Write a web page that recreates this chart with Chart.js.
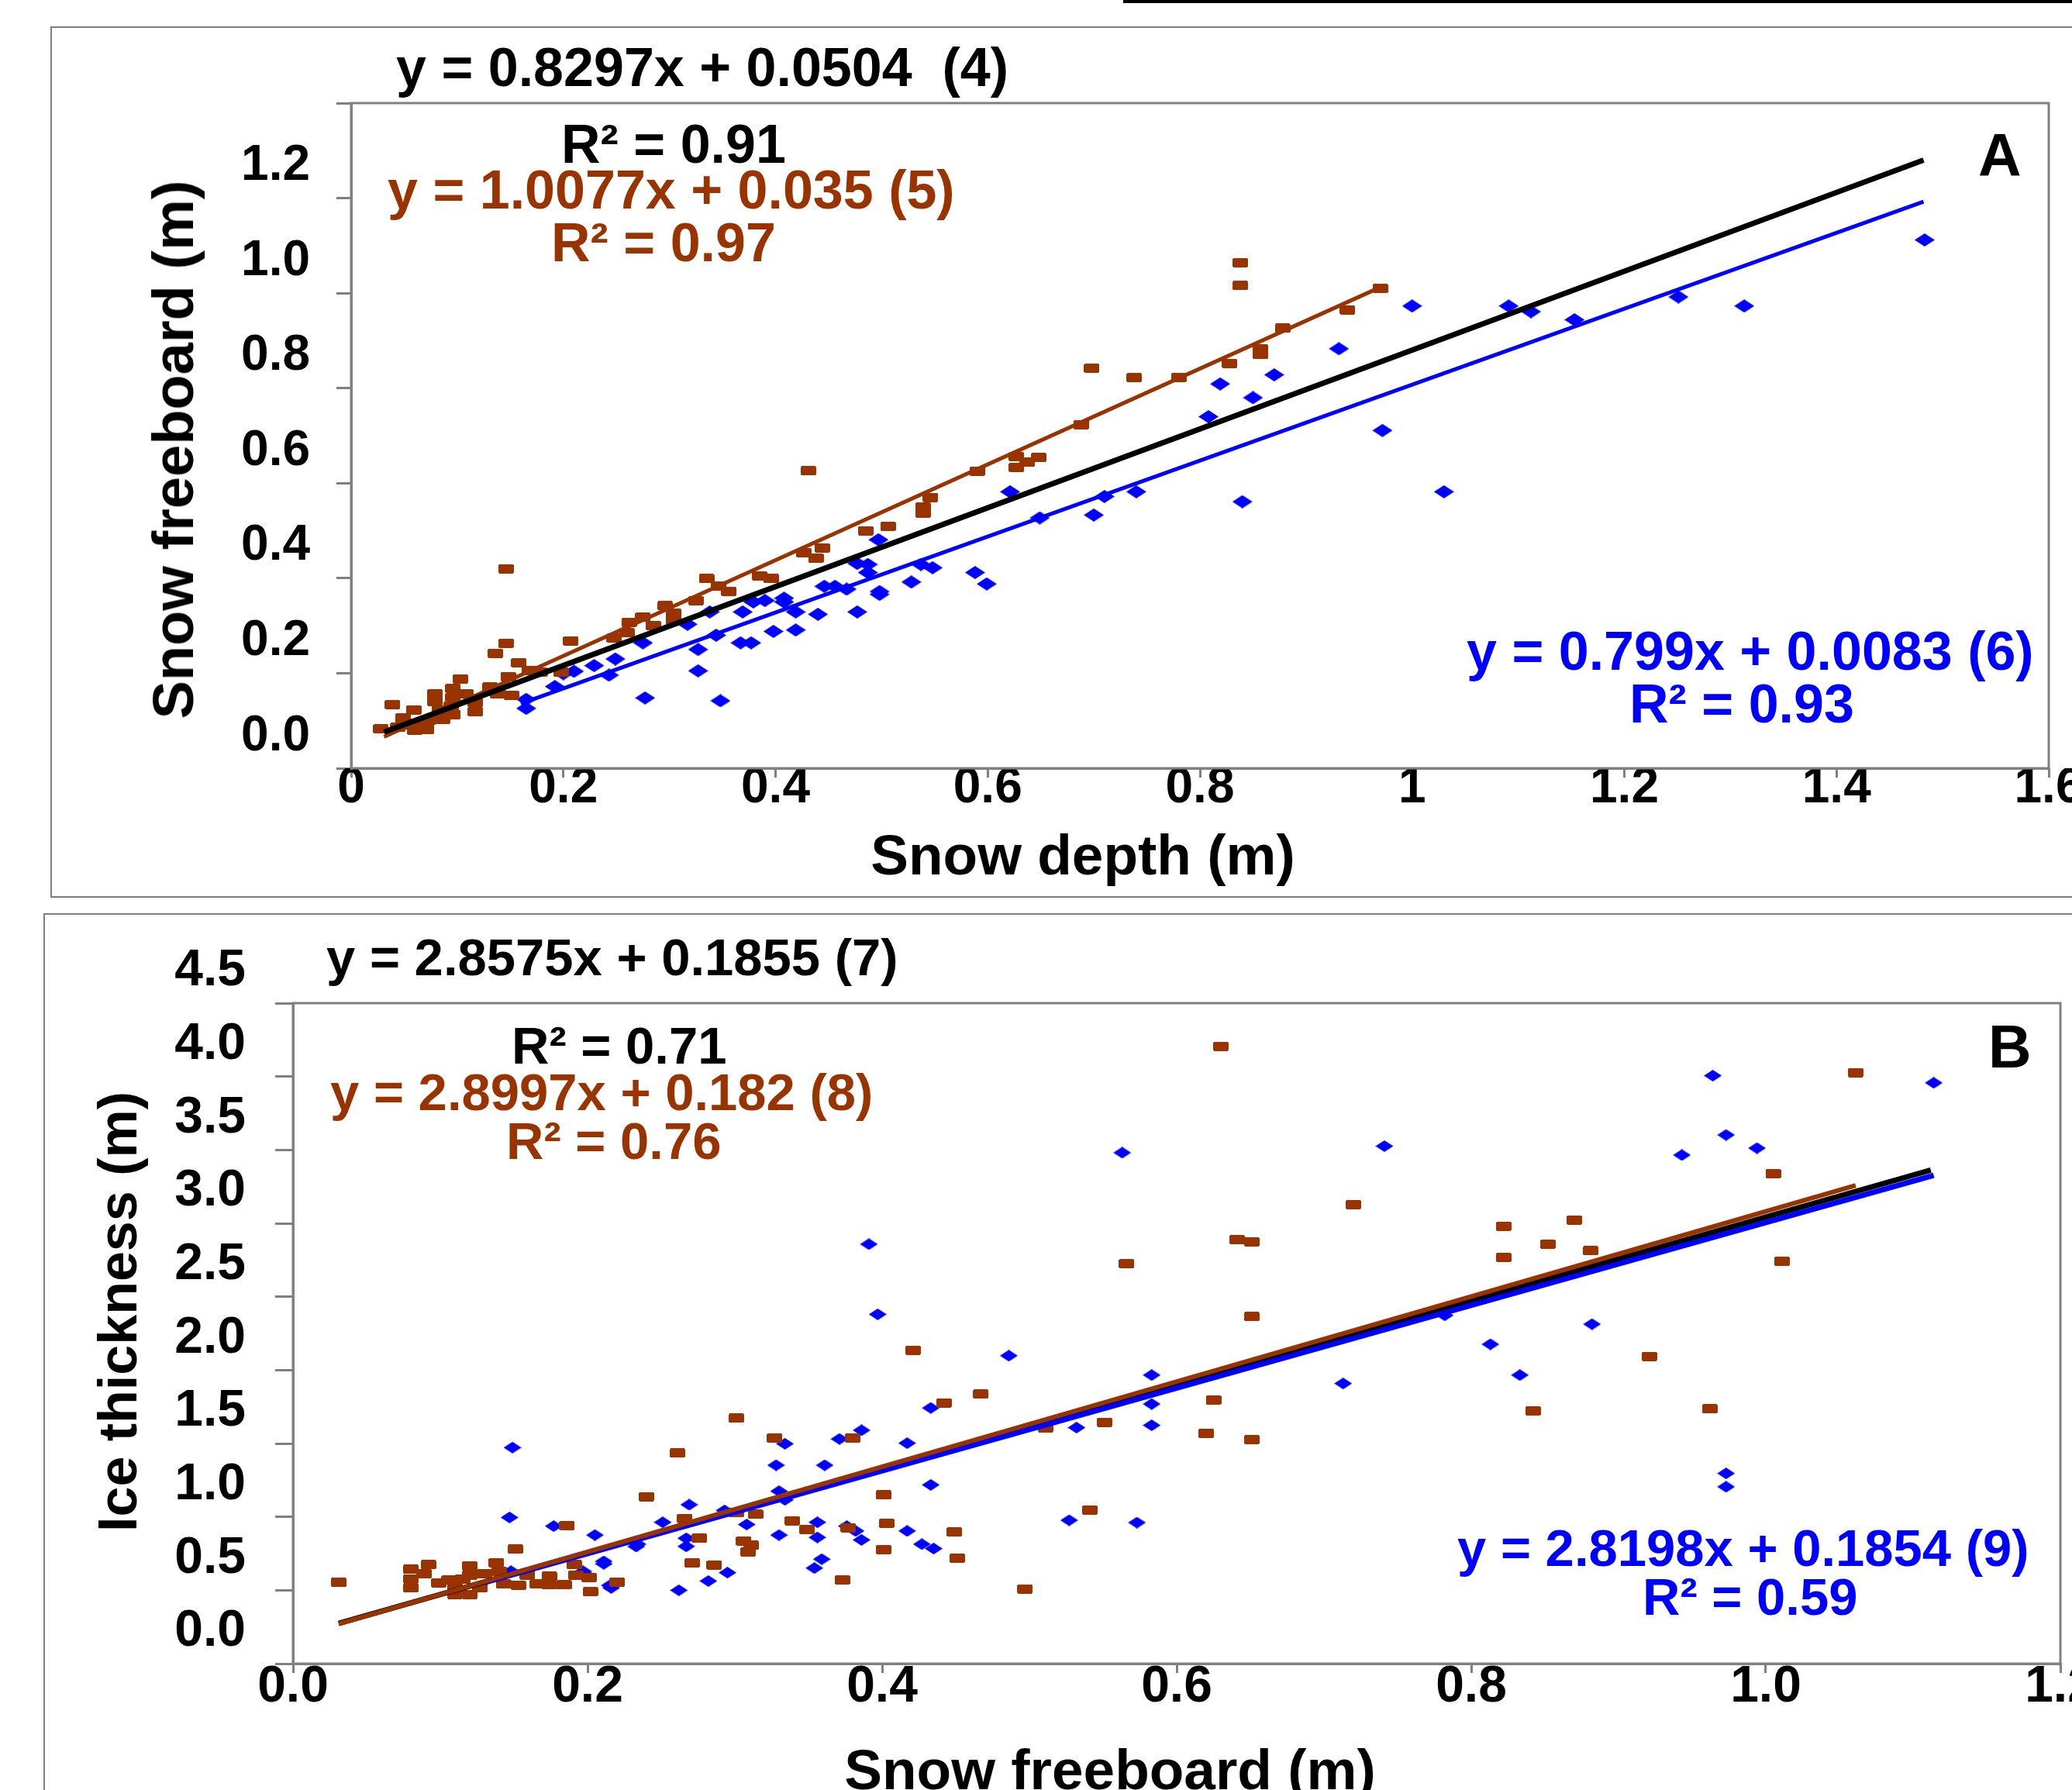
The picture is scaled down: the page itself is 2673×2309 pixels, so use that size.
<!DOCTYPE html>
<html>
<head>
<meta charset="utf-8">
<script src="https://cdn.jsdelivr.net/npm/chart.js@4.4.1/dist/chart.umd.min.js"></script>
<style>
  html, body { margin: 0; padding: 0; background: #fff; }
  body { width: 2673px; height: 2309px; overflow: hidden; position: relative;
         font-family: "Liberation Sans", Arial, sans-serif; font-weight: bold; }
  canvas { position: absolute; left: 0; }
  .frame { position: absolute; border: 2px solid #7f7f7f; }
  .txt { position: absolute; white-space: pre; line-height: 1; }
  .brown { color: #993300; }
  .blue { color: #0000ff; }
</style>
</head>
<body>
<div style="position:absolute;left:1449px;top:0;width:1300px;height:4px;background:#000"></div>
<div class="frame" style="left:65px;top:34px;width:2700px;height:1120px"></div>
<div class="frame" style="left:56px;top:1178px;width:2700px;height:1200px"></div>

<canvas id="chartA" width="2720" height="1160" style="top:0"></canvas>
<canvas id="chartB" width="2720" height="1149" style="top:1160px"></canvas>

<!-- panel A text -->
<div class="txt" style="left:511px;top:52px;font-size:70px">y = 0.8297x + 0.0504  (4)</div>
<div class="txt" style="left:724px;top:151px;font-size:70px">R² = 0.91</div>
<div class="txt brown" style="left:500px;top:210px;font-size:70px">y = 1.0077x + 0.035 (5)</div>
<div class="txt brown" style="left:711px;top:278px;font-size:70px">R² = 0.97</div>
<div class="txt" style="left:2552px;top:162px;font-size:77px">A</div>
<div class="txt blue" style="left:1892px;top:805px;font-size:70px">y = 0.799x + 0.0083 (6)</div>
<div class="txt blue" style="left:2102px;top:873px;font-size:70px">R² = 0.93</div>
<div class="txt" style="left:1397px;top:1066px;font-size:73px;transform:translateX(-50%)">Snow depth (m)</div>
<div class="txt" style="left:224px;top:580px;font-size:74px;transform:translate(-50%,-50%) rotate(-90deg)">Snow freeboard (m)</div>

<!-- panel B text -->
<div class="txt" style="left:421px;top:1201px;font-size:67px">y = 2.8575x + 0.1855 (7)</div>
<div class="txt" style="left:660px;top:1315px;font-size:67px">R² = 0.71</div>
<div class="txt brown" style="left:426px;top:1375px;font-size:67px">y = 2.8997x + 0.182 (8)</div>
<div class="txt brown" style="left:653px;top:1438px;font-size:67px">R² = 0.76</div>
<div class="txt" style="left:2565px;top:1312px;font-size:77px">B</div>
<div class="txt blue" style="left:1880px;top:1963px;font-size:67px">y = 2.8198x + 0.1854 (9)</div>
<div class="txt blue" style="left:2119px;top:2026px;font-size:67px">R² = 0.59</div>
<div class="txt" style="left:1432px;top:2246px;font-size:73px;transform:translateX(-50%)">Snow freeboard (m)</div>
<div class="txt" style="left:152px;top:1692px;font-size:70px;transform:translate(-50%,-50%) rotate(-90deg)">Ice thickness (m)</div>

<script>
// ---- Panel A: snow depth (x) vs snow freeboard (y) ----
const depthA_brown = [0.028, 0.039, 0.044, 0.049, 0.049, 0.059, 0.059, 0.060, 0.065, 0.071, 0.072, 0.079, 0.079, 0.083, 0.086,
  0.094, 0.096, 0.096, 0.096, 0.103, 0.108, 0.117, 0.117, 0.131, 0.136, 0.138, 0.146, 0.146, 0.148, 0.151,
  0.158, 0.168, 0.178, 0.198, 0.207, 0.248, 0.260, 0.262, 0.275, 0.285, 0.296, 0.304, 0.304, 0.325, 0.335,
  0.346, 0.356, 0.385, 0.396, 0.427, 0.431, 0.438, 0.444, 0.485, 0.506, 0.539, 0.539, 0.546, 0.590, 0.627,
  0.627, 0.637, 0.648, 0.688, 0.698, 0.738, 0.780, 0.828, 0.838, 0.838, 0.857, 0.857, 0.878, 0.939, 0.970];
const freeboardA_brown = [0.083, 0.134, 0.086, 0.106, 0.092, 0.123, 0.094, 0.080, 0.090, 0.081, 0.100, 0.157, 0.141, 0.122, 0.103,
  0.130, 0.168, 0.149, 0.113, 0.188, 0.157, 0.138, 0.119, 0.171, 0.242, 0.157, 0.263, 0.420, 0.193, 0.154,
  0.222, 0.206, 0.203, 0.202, 0.268, 0.274, 0.285, 0.307, 0.318, 0.300, 0.342, 0.326, 0.312, 0.353, 0.399,
  0.383, 0.372, 0.405, 0.399, 0.453, 0.626, 0.442, 0.464, 0.500, 0.509, 0.550, 0.537, 0.570, 0.625, 0.633,
  0.656, 0.644, 0.654, 0.723, 0.842, 0.822, 0.822, 0.852, 1.064, 1.016, 0.883, 0.871, 0.926, 0.965, 1.010];

const depthA_blue = [0.165, 0.165, 0.192, 0.200, 0.210, 0.229, 0.243, 0.249, 0.275, 0.277, 0.317, 0.327, 0.327, 0.338, 0.344,
  0.348, 0.367, 0.377, 0.369, 0.379, 0.390, 0.398, 0.408, 0.408, 0.419, 0.419, 0.440, 0.446, 0.456, 0.467,
  0.477, 0.477, 0.487, 0.487, 0.497, 0.498, 0.498, 0.528, 0.537, 0.548, 0.588, 0.599, 0.621, 0.649, 0.700,
  0.710, 0.740, 0.808, 0.819, 0.840, 0.850, 0.870, 0.931, 0.972, 1.000, 1.030, 1.091, 1.112, 1.153, 1.251,
  1.313, 1.483];
const freeboardA_blue = [0.126, 0.145, 0.172, 0.199, 0.204, 0.216, 0.196, 0.230, 0.264, 0.148, 0.303, 0.250, 0.205, 0.329, 0.280,
  0.142, 0.264, 0.264, 0.329, 0.350, 0.353, 0.288, 0.358, 0.350, 0.329, 0.291, 0.324, 0.383, 0.383, 0.377,
  0.329, 0.431, 0.429, 0.412, 0.481, 0.372, 0.366, 0.392, 0.429, 0.422, 0.412, 0.388, 0.582, 0.527, 0.533,
  0.572, 0.582, 0.740, 0.809, 0.561, 0.780, 0.828, 0.883, 0.711, 0.973, 0.582, 0.973, 0.961, 0.944, 0.992,
  0.973, 1.112];

// fits (4) all, (5) brown, (6) blue
const slopesA = [0.8297, 1.0077, 0.799];
const interceptsA = [0.0504, 0.035, 0.0083];
const fitFromA = [0.031, 0.031, 0.16];
const fitToA = [1.482, 0.971, 1.482];

const xTicksA = ['0', '0.2', '0.4', '0.6', '0.8', '1', '1.2', '1.4', '1.6'];
const yTicksA = ['0.0', '0.2', '0.4', '0.6', '0.8', '1.0', '1.2', ''];

// ---- Panel B: snow freeboard (x) vs ice thickness (y) ----
const freeboardB_brown = [0.031, 0.080, 0.080, 0.080, 0.089, 0.092, 0.099, 0.106, 0.110, 0.110, 0.115, 0.120, 0.120, 0.120, 0.127,
  0.130, 0.138, 0.140, 0.143, 0.151, 0.153, 0.159, 0.166, 0.174, 0.174, 0.184, 0.191, 0.192, 0.201, 0.202,
  0.220, 0.186, 0.240, 0.261, 0.266, 0.271, 0.276, 0.286, 0.301, 0.301, 0.306, 0.311, 0.309, 0.314, 0.327,
  0.339, 0.349, 0.373, 0.377, 0.380, 0.401, 0.403, 0.401, 0.421, 0.442, 0.467, 0.449, 0.451, 0.497, 0.511,
  0.541, 0.551, 0.566, 0.620, 0.625, 0.630, 0.641, 0.651, 0.651, 0.651, 0.720, 0.822, 0.822, 0.842, 0.852,
  0.870, 0.881, 0.921, 0.962, 1.005, 1.011, 1.061];
const thicknessB_brown = [0.555, 0.643, 0.577, 0.516, 0.613, 0.674, 0.551, 0.569, 0.516, 0.472, 0.577, 0.666, 0.604, 0.472, 0.516,
  0.613, 0.688, 0.630, 0.542, 0.780, 0.533, 0.604, 0.542, 0.595, 0.537, 0.537, 0.674, 0.604, 0.586, 0.490,
  0.555, 0.941, 1.138, 1.434, 0.989, 0.686, 0.854, 0.672, 1.672, 1.028, 0.836, 0.806, 0.762, 1.017, 1.537,
  0.974, 0.913, 0.570, 0.926, 1.537, 1.149, 0.956, 0.777, 2.135, 1.777, 1.836, 0.897, 0.718, 0.509, 1.608,
  1.047, 1.645, 2.725, 1.569, 1.796, 4.206, 2.889, 2.873, 2.364, 1.526, 3.128, 2.980, 2.767, 1.722, 2.858,
  3.022, 2.813, 2.094, 1.736, 3.338, 2.741, 4.027];

const freeboardB_blue = [0.149, 0.147, 0.148, 0.177, 0.197, 0.198, 0.205, 0.211, 0.211, 0.215, 0.216, 0.233, 0.234, 0.251, 0.262,
  0.267, 0.267, 0.269, 0.282, 0.293, 0.295, 0.308, 0.328, 0.330, 0.330, 0.334, 0.334, 0.354, 0.356, 0.356,
  0.359, 0.361, 0.371, 0.376, 0.382, 0.386, 0.386, 0.391, 0.397, 0.417, 0.417, 0.427, 0.435, 0.433, 0.433,
  0.486, 0.527, 0.532, 0.563, 0.573, 0.583, 0.583, 0.583, 0.713, 0.741, 0.782, 0.813, 0.833, 0.882, 0.943,
  0.964, 0.973, 0.973, 0.973, 0.994, 1.114];
const thicknessB_blue = [1.472, 0.996, 0.630, 0.937, 0.629, 0.613, 0.876, 0.697, 0.680, 0.533, 0.516, 0.798, 0.814, 0.963, 0.500,
  0.854, 0.799, 1.083, 0.563, 1.044, 0.620, 0.948, 1.352, 1.175, 0.876, 1.498, 1.116, 0.651, 0.963, 0.860,
  0.712, 1.352, 1.531, 0.937, 0.904, 1.590, 0.843, 2.858, 2.380, 1.502, 0.904, 0.814, 0.784, 1.742, 1.218,
  2.098, 0.977, 1.608, 3.481, 0.961, 1.966, 1.769, 1.624, 1.909, 3.526, 2.373, 2.176, 1.966, 2.313, 3.465,
  4.006, 3.602, 1.296, 1.205, 3.512, 3.957];

// fits (7) all, (8) brown, (9) blue
const slopesB = [2.8575, 2.8997, 2.8198];
const interceptsB = [0.1855, 0.182, 0.1854];
const fitFromB = [0.031, 0.031, 0.13];
const fitToB = [1.112, 1.061, 1.114];

const xTicksB = ['0.0', '0.2', '0.4', '0.6', '0.8', '1.0', '1.2'];
const yTicksB = ['0.0', '0.5', '1.0', '1.5', '2.0', '2.5', '3.0', '3.5', '4.0', '4.5'];

const BROWN = '#993300';
const BLUE = '#0000ff';
const GREY = '#808080';

// small marker images (markers in the figure are stretched sideways)
function rectMarker(w, h, color) {
  const c = document.createElement('canvas');
  c.width = w; c.height = h;
  const g = c.getContext('2d');
  g.fillStyle = color;
  g.fillRect(1, 0, w - 2, h);
  g.fillRect(0, 1, w, h - 2);
  return c;
}
function diamondMarker(w, h, color) {
  const c = document.createElement('canvas');
  c.width = w; c.height = h;
  const g = c.getContext('2d');
  g.fillStyle = color;
  g.beginPath();
  g.moveTo(w / 2, 0); g.lineTo(w, h / 2); g.lineTo(w / 2, h); g.lineTo(0, h / 2);
  g.closePath();
  g.fill();
  return c;
}

const toPoints = (xs, ys) => xs.map((x, i) => ({x: x, y: ys[i]}));
const fitLine = (m, b, x0, x1) => [{x: x0, y: m * x0 + b}, {x: x1, y: m * x1 + b}];

// gray frame round the plot area
const plotFrame = {
  id: 'plotFrame',
  beforeDatasetsDraw(chart) {
    const {ctx, chartArea: a} = chart;
    ctx.save();
    ctx.strokeStyle = GREY;
    ctx.lineWidth = 3;
    ctx.strokeRect(a.left, a.top, a.right - a.left, a.bottom - a.top);
    ctx.restore();
  }
};

function tickFont(size) {
  return {family: 'Liberation Sans', weight: 'bold', size: size, lineHeight: 1};
}

function xAxis(max, labels, size, pad) {
  return {
    type: 'linear', min: 0, max: max,
    afterFit: s => { s.height = 60; },
    grid: {drawOnChartArea: false, tickLength: 12, color: GREY, lineWidth: 3},
    border: {color: GREY, width: 3},
    ticks: {stepSize: 0.2, autoSkip: false, maxRotation: 0, minRotation: 0, padding: pad, color: '#000',
            font: tickFont(size), callback: (v, i) => labels[i]}
  };
}
function yAxis(max, step, labels, size, tickLen, pad) {
  return {
    type: 'linear', min: 0, max: max,
    afterFit: s => { s.width = 200; },
    grid: {drawOnChartArea: false, tickLength: tickLen, color: GREY, lineWidth: 3},
    border: {color: GREY, width: 3},
    ticks: {stepSize: step, autoSkip: false, padding: pad, labelOffset: -41, color: '#000',
            font: tickFont(size), callback: (v, i) => labels[i]}
  };
}

function lineSet(data, color, width) {
  return {data: data, showLine: true, borderColor: color, borderWidth: width, pointRadius: 0, fill: false};
}
function pointSet(data, marker) {
  return {data: data, showLine: false, pointStyle: marker, pointRadius: 8, pointHoverRadius: 8,
          backgroundColor: 'transparent', borderColor: 'transparent'};
}

const commonOptions = {
  responsive: false, animation: false, devicePixelRatio: 1, events: [],
  plugins: {legend: {display: false}, tooltip: {enabled: false}}
};

// Panel A
new Chart(document.getElementById('chartA'), {
  type: 'scatter',
  data: {
    datasets: [
      lineSet(fitLine(slopesA[0], interceptsA[0], fitFromA[0], fitToA[0]), '#000', 7),
      lineSet(fitLine(slopesA[1], interceptsA[1], fitFromA[1], fitToA[1]), BROWN, 5),
      lineSet(fitLine(slopesA[2], interceptsA[2], fitFromA[2], fitToA[2]), BLUE, 5),
      pointSet(toPoints(depthA_brown, freeboardA_brown), rectMarker(20, 12, BROWN)),
      pointSet(toPoints(depthA_blue, freeboardA_blue), diamondMarker(26, 17, BLUE))
    ]
  },
  options: Object.assign({}, commonOptions, {
    layout: {padding: {left: 253, top: 133, right: 77, bottom: 109}},
    scales: {
      x: xAxis(1.6, xTicksA, 64, -18),
      y: yAxis(1.4, 0.2, yTicksA, 64, 19, 34)
    }
  }),
  plugins: [plotFrame]
});

// Panel B
new Chart(document.getElementById('chartB'), {
  type: 'scatter',
  data: {
    datasets: [
      lineSet(fitLine(slopesB[1], interceptsB[1], fitFromB[1], fitToB[1]), BROWN, 6),
      lineSet(fitLine(slopesB[2], interceptsB[2], fitFromB[2], fitToB[2]), BLUE, 7),
      lineSet(fitLine(slopesB[0], interceptsB[0], fitFromB[0], fitToB[0]), '#000', 7),
      pointSet(toPoints(freeboardB_brown, thicknessB_brown), rectMarker(20, 12, BROWN)),
      pointSet(toPoints(freeboardB_blue, thicknessB_blue), diamondMarker(23, 15, BLUE))
    ]
  },
  options: Object.assign({}, commonOptions, {
    layout: {padding: {left: 178, top: 134, right: 62, bottom: 103}},
    scales: {
      x: xAxis(1.2, xTicksB, 66, -14),
      y: yAxis(4.5, 0.5, yTicksB, 66, 23, 38)
    }
  }),
  plugins: [plotFrame]
});
</script>
</body>
</html>
